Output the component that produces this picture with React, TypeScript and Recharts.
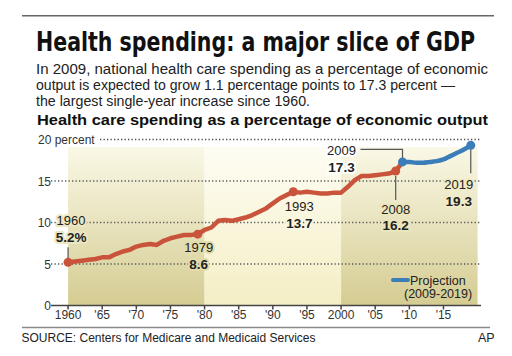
import {
  LineChart,
  Line,
  XAxis,
  YAxis,
  ReferenceArea,
  ReferenceLine,
  ReferenceDot,
} from "recharts";

// health spending, % of GDP
const actualYears = [
  1960, 1961, 1962, 1963, 1964, 1965, 1966, 1967, 1968, 1969,
  1970, 1971, 1972, 1973, 1974, 1975, 1976, 1977, 1978, 1979,
  1980, 1981, 1982, 1983, 1984, 1985, 1986, 1987, 1988, 1989,
  1990, 1991, 1992, 1993, 1994, 1995, 1996, 1997, 1998, 1999,
  2000, 2001, 2002, 2003, 2004, 2005, 2006, 2007, 2008,
];
const actualShare = [
  5.2, 5.3, 5.4, 5.5, 5.6, 5.8, 5.8, 6.2, 6.5, 6.7,
  7.1, 7.3, 7.4, 7.3, 7.8, 8.1, 8.3, 8.5, 8.5, 8.6,
  9.1, 9.4, 10.2, 10.3, 10.2, 10.4, 10.6, 10.9, 11.3, 11.7,
  12.3, 12.9, 13.3, 13.7, 13.6, 13.7, 13.6, 13.5, 13.5, 13.6,
  13.6, 14.3, 15.1, 15.6, 15.6, 15.7, 15.8, 15.9, 16.2,
];
const projectedYears = [2009, 2010, 2011, 2012, 2013, 2014, 2015, 2016, 2017, 2018, 2019];
const projectedShare = [17.3, 17.3, 17.2, 17.2, 17.3, 17.4, 17.6, 18.0, 18.4, 18.8, 19.3];

const xTicks = [1960, 1965, 1970, 1975, 1980, 1985, 1990, 1995, 2000, 2005, 2010, 2015];
const xTickLabels = ["1960", "'65", "'70", "'75", "'80", "'85", "'90", "'95", "2000", "'05", "'10", "'15"];
const yTicks = [0, 5, 10, 15, 20];
const gridValues = [5, 10, 15, 20];

const bandStarts = [1960, 1980, 2000];
const bandEnds = [1980, 2000, 2020];
const bandShades = ["dark", "light", "dark"];

const calloutYears = [1960, 1979, 1993, 2008, 2009, 2019];
const calloutLabels = [
  ["1960", "5.2%"],
  ["1979", "8.6"],
  ["1993", "13.7"],
  ["2008", "16.2"],
  ["2009", "17.3"],
  ["2019", "19.3"],
];

const RED = "#c9543b";
const BLUE = "#3b7db8";
const FONT = "'Liberation Sans', Arial, Helvetica, sans-serif";
const NARROW = "'Liberation Sans Narrow', 'DejaVu Sans Condensed', 'Liberation Sans', sans-serif";
const DOTS = "1.3 2.2";

// plot geometry
const PLOT_TOP = 136.2;
const Y_MAX = 20.4;
const PX_PER_PCT = 8.3;

const rows = [
  ...actualYears.map((year, i) => ({ year, actual: actualShare[i], projected: null as number | null })),
  ...projectedYears.map((year, i) => ({
    year,
    actual: i === 0 ? projectedShare[0] : (null as number | null),
    projected: projectedShare[i],
  })),
];

const valueFor = (year: number) => {
  const a = actualYears.indexOf(year);
  if (a >= 0) return actualShare[a];
  return projectedShare[projectedYears.indexOf(year)];
};

// label placement relative to the point
const calloutStyle: Record<number, any> = {
  1960: { dx: 3, y1: -37, y2: -20, lead: [[0, -15], [0, -4]], halo: "#ece7c2" },
  1979: { dx: 1, y1: 18, y2: 35, lead: null, halo: "#e3dcac" },
  1993: { dx: 6, y1: 19, y2: 36, lead: null, halo: "#faf6df" },
  2008: { dx: 0, y1: 43, y2: 59, lead: [[0, 5], [0, 29]], halo: "#ebe5bc" },
  2009: { dx: -61, y1: -7, y2: 10, lead: [[-42, -12.5], [0, -12.5], [0, -4]], halo: "#ffffff" },
  2019: { dx: -12, y1: 44, y2: 60.5, lead: [[0, 4], [0, 28]], halo: "#f0ebc8" },
};

const Callout = (props: any) => {
  const { cx, cy, year, color, labels } = props;
  const s = calloutStyle[year];
  const halo = { stroke: s.halo, strokeWidth: 4, paintOrder: "stroke" as const, strokeLinejoin: "round" as const };
  return (
    <g>
      {s.lead && (
        <polyline
          points={s.lead.map((p: number[]) => `${cx + p[0]},${cy + p[1]}`).join(" ")}
          fill="none"
          stroke="#555"
          strokeWidth={1.2}
        />
      )}
      <circle cx={cx} cy={cy} r={4.5} fill={color} />
      <text x={cx + s.dx} y={cy + s.y1} textAnchor="middle" fontSize={13} fill="#222" fontFamily={FONT} {...halo}>
        {labels[0]}
      </text>
      <text x={cx + s.dx} y={cy + s.y2} textAnchor="middle" fontSize={13.5} fontWeight="bold" fill="#222" fontFamily={FONT} {...halo}>
        {labels[1]}
      </text>
    </g>
  );
};

const YTick = (props: any) => {
  const { y, payload } = props;
  if (payload.value === 20) {
    return (
      <text x={38} y={y + 4.5} fontSize={12} fill="#333" fontFamily={FONT}>
        20 percent
      </text>
    );
  }
  return (
    <text x={51} y={y + 4.5} textAnchor="end" fontSize={12} fill="#333" fontFamily={FONT}>
      {payload.value}
    </text>
  );
};

export default function App() {
  const topRuleY = PLOT_TOP + (Y_MAX - gridValues[gridValues.length - 1]) * PX_PER_PCT;
  return (
    <div style={{ position: "absolute", left: 0, top: 0, width: 512, height: 356, background: "#fff", overflow: "hidden" }}>
      <LineChart
        width={512}
        height={356}
        data={rows}
        margin={{ top: PLOT_TOP, right: 31, bottom: 20.5, left: 50 }}
        style={{ position: "absolute", left: 0, top: 0 }}
      >
        <defs>
          <linearGradient id="bandDark" x1="0" y1="0" x2="0" y2="1">
            <stop offset="0%" stopColor="#faf8e6" />
            <stop offset="100%" stopColor="#d5cc92" />
          </linearGradient>
          <linearGradient id="bandLight" x1="0" y1="0" x2="0" y2="1">
            <stop offset="0%" stopColor="#fefdf4" />
            <stop offset="100%" stopColor="#f4eec4" />
          </linearGradient>
        </defs>
        <XAxis
          type="number"
          dataKey="year"
          domain={[1957.5, 2020.5]}
          ticks={xTicks}
          tickFormatter={(v: number) => xTickLabels[xTicks.indexOf(v)]}
          tick={{ fontSize: 12, fill: "#333", fontFamily: FONT }}
          tickSize={4}
          tickMargin={1}
          stroke="#444"
          strokeWidth={1.5}
          allowDataOverflow
        />
        <YAxis
          type="number"
          domain={[0, Y_MAX]}
          ticks={yTicks}
          width={1}
          axisLine={false}
          tickLine={false}
          tick={<YTick />}
          allowDataOverflow
        />
        {bandStarts.map((x1, i) => (
          <ReferenceArea
            key={`band-${x1}`}
            x1={x1}
            x2={bandEnds[i]}
            y1={0}
            y2={19.1}
            fill={bandShades[i] === "dark" ? "url(#bandDark)" : "url(#bandLight)"}
            fillOpacity={1}
            stroke="none"
          />
        ))}
        {gridValues.slice(0, 3).map((v) => (
          <ReferenceLine
            key={`grid-${v}`}
            y={v}
            ifOverflow="visible"
            stroke="#5a5a5a"
            strokeDasharray={DOTS}
            strokeWidth={1.4}
          />
        ))}
        <Line
          type="linear"
          dataKey="actual"
          stroke={RED}
          strokeWidth={4.5}
          strokeLinejoin="round"
          strokeLinecap="round"
          dot={false}
          activeDot={false}
          isAnimationActive={false}
        />
        <Line
          type="monotone"
          dataKey="projected"
          stroke={BLUE}
          strokeWidth={4.5}
          strokeLinejoin="round"
          strokeLinecap="round"
          dot={false}
          activeDot={false}
          isAnimationActive={false}
        />
        {calloutYears.map((year, i) => (
          <ReferenceDot
            key={`callout-${year}`}
            x={year}
            y={valueFor(year)}
            r={4.5}
            ifOverflow="visible"
            shape={(p: any) => (
              <Callout
                cx={p.cx}
                cy={p.cy}
                year={year}
                color={year >= projectedYears[0] ? BLUE : RED}
                labels={calloutLabels[i]}
              />
            )}
          />
        ))}
      </LineChart>

      <svg width={512} height={356} style={{ position: "absolute", left: 0, top: 0, pointerEvents: "none" }}>
        <line x1={22} x2={494} y1={15.7} y2={15.7} stroke="#666" strokeWidth={1.5} />
        <text x={36} y={51} fontSize={27} fontWeight="bold" fontFamily={NARROW} fill="#111" textLength={439} lengthAdjust="spacingAndGlyphs">
          Health spending: a major slice of GDP
        </text>
        <text x={36} y={74} fontSize={14} fontFamily={FONT} fill="#222" textLength={452} lengthAdjust="spacingAndGlyphs">
          In 2009, national health care spending as a percentage of economic
        </text>
        <text x={36} y={90} fontSize={14} fontFamily={FONT} fill="#222" textLength={419} lengthAdjust="spacingAndGlyphs">
          output is expected to grow 1.1 percentage points to 17.3 percent —
        </text>
        <text x={36} y={106} fontSize={14} fontFamily={FONT} fill="#222" textLength={274} lengthAdjust="spacingAndGlyphs">
          the largest single-year increase since 1960.
        </text>
        <text x={37} y={124.5} fontSize={14} fontWeight="bold" fontFamily={FONT} fill="#111" textLength={451} lengthAdjust="spacingAndGlyphs">
          Health care spending as a percentage of economic output
        </text>

        {/* dotted rule at 20 percent, above the shaded bands */}
        <line x1={100} x2={481} y1={topRuleY} y2={topRuleY} stroke="#4a4a4a" strokeWidth={1.5} strokeDasharray={DOTS} />

        <line x1={393} x2={408} y1={280} y2={280} stroke={BLUE} strokeWidth={4} strokeLinecap="round" />
        <text x={410} y={284.5} fontSize={12.5} fontFamily={FONT} fill="#222">
          Projection
        </text>
        <text x={404} y={298} fontSize={12.5} fontFamily={FONT} fill="#222">
          (2009-2019)
        </text>

        <line x1={22} x2={490} y1={327.5} y2={327.5} stroke="#8a8a8a" strokeWidth={1.5} />
        <text x={21.5} y={342} fontSize={12.5} fontFamily={FONT} fill="#222" textLength={294} lengthAdjust="spacingAndGlyphs">
          SOURCE: Centers for Medicare and Medicaid Services
        </text>
        <text x={478} y={342} fontSize={12.5} fontFamily={FONT} fill="#222">
          AP
        </text>
      </svg>
    </div>
  );
}
